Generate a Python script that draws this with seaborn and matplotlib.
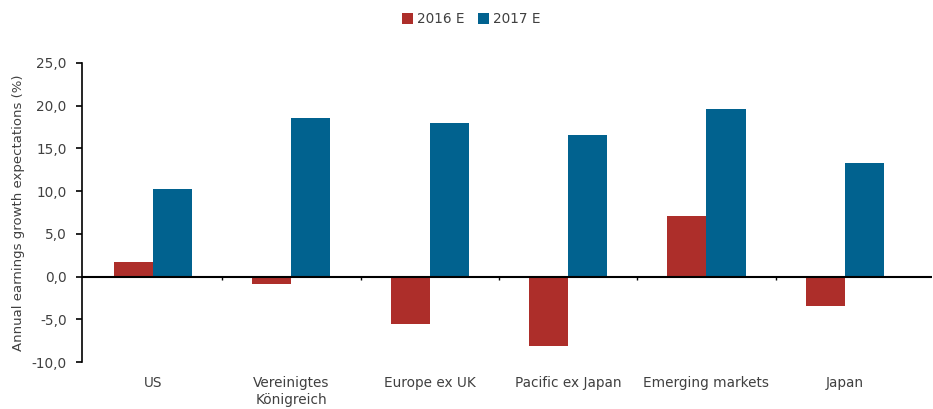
import matplotlib
matplotlib.use("Agg")
import matplotlib.pyplot as plt
import seaborn as sns
import pandas as pd
from matplotlib.patches import Patch

regions = ["US", "Vereinigtes\nKönigreich", "Europe ex UK", "Pacific ex Japan", "Emerging markets", "Japan"]
series_names = ["2016 E", "2017 E"]
values_2016 = [1.7, -0.9, -5.6, -8.1, 7.1, -3.5]
values_2017 = [10.3, 18.6, 18.0, 16.6, 19.6, 13.3]
y_ticks = [-10, -5, 0, 5, 10, 15, 20, 25]
y_label = "Annual earnings growth expectations (%)"
colors = ["#AD2E2A", "#01628F"]

df = pd.DataFrame({
    "region": regions * 2,
    "year": [series_names[0]] * len(regions) + [series_names[1]] * len(regions),
    "value": values_2016 + values_2017,
})

sns.set_theme(style="white")
plt.rcParams["font.family"] = ["DejaVu Sans"]
text_color = "#404040"
fs = 9.8

fig = plt.figure(figsize=(9.33, 4.09), dpi=100)
ax = fig.add_axes([82 / 933, 1 - 362 / 409, (932 - 82) / 933, (362 - 63) / 409])

sns.barplot(data=df, x="region", y="value", hue="year", palette=colors,
            width=0.565, ax=ax, legend=False, edgecolor="none", linewidth=0,
            saturation=1)

ax.set_ylim(-10, 25)
ax.set_yticks(y_ticks)
ax.set_yticklabels([f"{v:.1f}".replace(".", ",") for v in y_ticks], color=text_color, fontsize=fs)
ax.set_xlim(-0.513, 5.63)
ax.set_xlabel("")
ax.set_ylabel(y_label, color=text_color, fontsize=9.5, labelpad=5)

for s in ["top", "right", "bottom"]:
    ax.spines[s].set_visible(False)
ax.spines["left"].set_color("black")
ax.spines["left"].set_linewidth(1.2)
ax.tick_params(axis="y", which="major", left=True, length=4, width=1.2, color="black", pad=7)
ax.tick_params(axis="x", length=0, pad=10, labelsize=fs, labelcolor=text_color)
for lbl in ax.get_xticklabels():
    lbl.set_linespacing(1.25)

ax.axhline(0, color="black", linewidth=1.5, zorder=3)
bounds = [i + 0.5 for i in range(len(regions) - 1)]
ax.vlines(bounds, -0.35, 0, color="black", linewidth=1.0, zorder=3)

handles = [Patch(facecolor=c, edgecolor="none") for c in colors]
fig.legend(handles, series_names, loc="upper center", bbox_to_anchor=(0.505, 1.0),
           ncol=2, frameon=False, handlelength=0.8, handleheight=0.8,
           handletextpad=0.3, columnspacing=1.0, fontsize=fs, labelcolor=text_color)

fig.savefig("out.png", dpi=100)
